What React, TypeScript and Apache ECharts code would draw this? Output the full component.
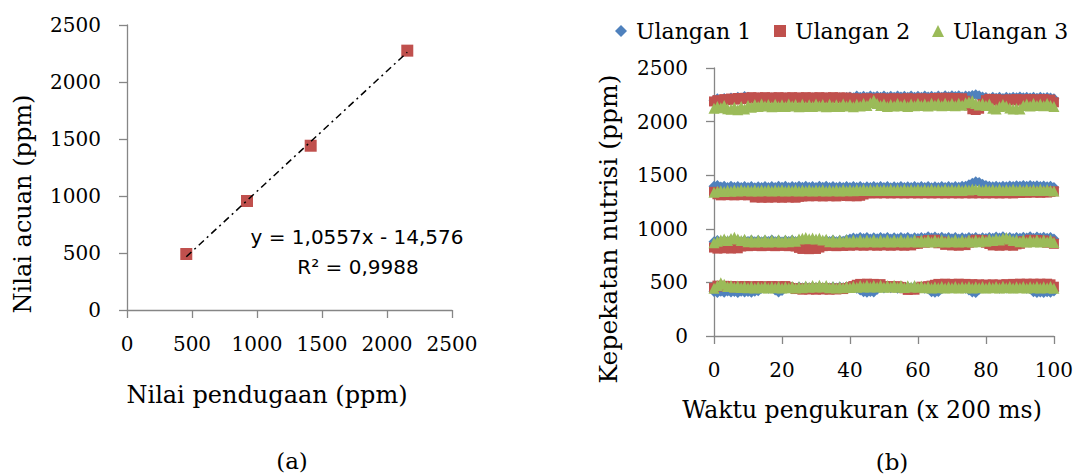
import React, { useEffect, useRef } from "react";
import * as echarts from "echarts";

// ---- Chart (a): calibration ----
const calibX = [456, 923, 1413, 2156];
const calibY = [491, 956, 1441, 2275];
const trendX = [456, 2156];
const trendY = [467, 2261];
const eqLine1 = "y = 1,0557x - 14,576";
const eqLine2 = "R² = 0,9988";

// ---- Chart (b): repeated measurements (index 0..100 = time x 200 ms) ----
const seriesNames = ["Ulangan 1", "Ulangan 2", "Ulangan 3"];

const u1Band450 = [
  415, 405, 418, 408, 420, 410, 416, 406, 418, 410,
  415, 408, 418, 422, 445, 458, 446, 456, 430, 410,
  425, 450, 449, 458, 446, 456, 448, 458, 447, 457,
  449, 458, 446, 456, 448, 458, 447, 457, 449, 458,
  450, 458, 446, 430, 412, 408, 416, 410, 435, 458,
  447, 457, 449, 458, 446, 456, 448, 458, 447, 457,
  449, 458, 446, 440, 412, 408, 415, 440, 448, 458,
  447, 457, 449, 458, 446, 430, 410, 406, 435, 458,
  447, 457, 449, 458, 446, 456, 448, 458, 447, 457,
  449, 458, 446, 440, 412, 405, 410, 406, 412, 408,
  420,
];
const u1Band880 = [
  880, 892, 878, 890, 882, 895, 880, 892, 878, 890,
  882, 894, 880, 892, 878, 890, 882, 895, 880, 892,
  878, 890, 882, 894, 880, 892, 878, 890, 882, 895,
  880, 892, 878, 890, 882, 894, 880, 892, 885, 898,
  905, 915, 908, 920, 910, 918, 906, 916, 908, 920,
  910, 918, 906, 916, 908, 920, 910, 918, 906, 916,
  910, 920, 912, 925, 915, 924, 912, 922, 910, 920,
  908, 918, 906, 916, 908, 920, 910, 918, 906, 916,
  910, 920, 912, 924, 915, 925, 912, 920, 910, 918,
  912, 922, 915, 925, 912, 924, 915, 922, 912, 920,
  905,
];
const u1Band1400 = [
  1398, 1404, 1390, 1398, 1386, 1396, 1388, 1395, 1385, 1394,
  1386, 1395, 1384, 1393, 1386, 1395, 1385, 1394, 1386, 1396,
  1388, 1397, 1386, 1395, 1388, 1398, 1387, 1396, 1388, 1395,
  1386, 1396, 1388, 1398, 1386, 1394, 1385, 1393, 1386, 1395,
  1385, 1394, 1386, 1395, 1384, 1393, 1386, 1395, 1385, 1394,
  1386, 1395, 1384, 1393, 1386, 1394, 1385, 1393, 1386, 1395,
  1385, 1394, 1386, 1395, 1384, 1393, 1386, 1395, 1385, 1394,
  1386, 1395, 1388, 1396, 1398, 1412, 1426, 1438, 1432, 1416,
  1405, 1398, 1392, 1396, 1390, 1398, 1392, 1400, 1395, 1402,
  1398, 1405, 1396, 1404, 1398, 1402, 1395, 1400, 1392, 1398,
  1385,
];
const u1Band2200 = [
  2200, 2212, 2198, 2215, 2205, 2220, 2210, 2228, 2218, 2234,
  2226, 2216, 2210, 2220, 2208, 2218, 2210, 2220, 2208, 2218,
  2210, 2220, 2208, 2218, 2210, 2220, 2208, 2218, 2210, 2220,
  2208, 2218, 2210, 2220, 2208, 2218, 2210, 2222, 2215, 2225,
  2230, 2222, 2238, 2228, 2236, 2226, 2238, 2230, 2236, 2226,
  2238, 2228, 2236, 2226, 2238, 2230, 2236, 2226, 2238, 2228,
  2236, 2226, 2238, 2230, 2236, 2226, 2238, 2228, 2240, 2232,
  2242, 2234, 2240, 2230, 2238, 2236, 2244, 2250, 2242, 2230,
  2224, 2214, 2226, 2218, 2228, 2216, 2226, 2220, 2228, 2222,
  2230, 2222, 2228, 2220, 2226, 2218, 2226, 2220, 2224, 2220,
  2212,
];

const u2Band450 = [
  448, 470, 462, 468, 458, 466, 455, 465, 458, 466,
  455, 465, 458, 466, 455, 465, 458, 466, 455, 465,
  458, 466, 455, 448, 438, 445, 432, 442, 434, 444,
  432, 442, 434, 444, 432, 442, 434, 444, 438, 448,
  455, 466, 478, 486, 476, 488, 478, 486, 476, 484,
  465, 458, 466, 455, 465, 458, 445, 430, 436, 432,
  448, 460, 455, 465, 470, 478, 486, 476, 488, 478,
  486, 476, 488, 478, 486, 476, 484, 474, 482, 474,
  480, 472, 482, 474, 480, 474, 484, 476, 486, 478,
  488, 478, 488, 480, 488, 478, 488, 480, 488, 482,
  460,
];
const u2Band880 = [
  825, 815, 828, 818, 826, 816, 828, 818, 835, 848,
  838, 850, 840, 852, 838, 850, 840, 852, 838, 850,
  840, 852, 838, 850, 835, 822, 812, 820, 810, 818,
  812, 825, 838, 850, 840, 852, 838, 850, 840, 852,
  842, 855, 845, 858, 842, 855, 845, 858, 842, 855,
  845, 858, 842, 855, 845, 858, 842, 855, 845, 858,
  860, 885, 870, 895, 875, 898, 865, 880, 850, 862,
  845, 858, 842, 855, 848, 870, 885, 898, 880, 895,
  870, 858, 845, 858, 842, 855, 845, 858, 842, 855,
  860, 885, 875, 898, 880, 896, 878, 892, 870, 880,
  860,
];
const u2Band1400 = [
  1345, 1322, 1312, 1320, 1314, 1322, 1312, 1320, 1314, 1322,
  1312, 1318, 1292, 1298, 1290, 1296, 1290, 1298, 1292, 1296,
  1290, 1298, 1292, 1296, 1290, 1298, 1302, 1308, 1303, 1310,
  1304, 1308, 1302, 1310, 1304, 1308, 1302, 1310, 1318, 1306,
  1304, 1310, 1303, 1308, 1320, 1330, 1332, 1336, 1330, 1336,
  1331, 1336, 1330, 1335, 1331, 1336, 1330, 1336, 1331, 1335,
  1330, 1336, 1331, 1336, 1330, 1335, 1331, 1336, 1330, 1336,
  1331, 1335, 1330, 1336, 1331, 1336, 1330, 1335, 1331, 1336,
  1330, 1336, 1331, 1335, 1330, 1336, 1331, 1336, 1330, 1335,
  1334, 1340, 1336, 1342, 1338, 1342, 1336, 1342, 1338, 1344,
  1350,
];
const u2Band2200 = [
  2188, 2200, 2195, 2210, 2200, 2215, 2205, 2220, 2210, 2222,
  2215, 2228, 2218, 2226, 2215, 2228, 2218, 2226, 2215, 2228,
  2218, 2226, 2215, 2228, 2218, 2226, 2215, 2228, 2218, 2226,
  2215, 2228, 2218, 2226, 2215, 2228, 2218, 2226, 2215, 2225,
  2210, 2218, 2205, 2215, 2208, 2218, 2205, 2215, 2208, 2218,
  2205, 2215, 2208, 2218, 2205, 2215, 2208, 2218, 2205, 2215,
  2208, 2218, 2205, 2215, 2208, 2220, 2210, 2222, 2212, 2222,
  2210, 2220, 2208, 2218, 2195, 2150, 2115, 2108, 2120, 2165,
  2200, 2212, 2198, 2210, 2180, 2205, 2195, 2208, 2198, 2210,
  2195, 2208, 2198, 2210, 2195, 2208, 2198, 2210, 2195, 2205,
  2180,
];

const u3Band450 = [
  446, 472, 496, 482, 462, 470, 455, 466, 452, 464,
  450, 462, 448, 460, 450, 462, 448, 460, 450, 462,
  448, 460, 450, 462, 448, 460, 450, 466, 455, 472,
  458, 474, 456, 470, 450, 462, 448, 460, 450, 462,
  452, 465, 455, 470, 458, 474, 456, 472, 458, 474,
  455, 470, 456, 474, 455, 470, 452, 468, 456, 472,
  454, 466, 450, 462, 448, 460, 450, 462, 448, 460,
  450, 462, 448, 460, 450, 462, 448, 460, 450, 462,
  448, 460, 450, 462, 448, 465, 450, 462, 448, 460,
  450, 462, 448, 460, 450, 462, 448, 460, 450, 462,
  445,
];
const u3Band880 = [
  870, 885, 895, 905, 890, 910, 922, 905, 890, 902,
  880, 898, 878, 896, 880, 898, 878, 896, 880, 898,
  878, 896, 880, 898, 885, 905, 912, 918, 908, 915,
  905, 912, 895, 902, 880, 898, 878, 896, 880, 898,
  878, 896, 880, 898, 878, 896, 880, 898, 878, 896,
  880, 898, 878, 896, 880, 898, 878, 896, 880, 898,
  878, 896, 880, 898, 878, 896, 880, 898, 878, 896,
  880, 898, 878, 896, 880, 898, 878, 896, 880, 900,
  885, 905, 890, 908, 895, 912, 918, 905, 890, 898,
  880, 898, 878, 896, 880, 898, 878, 896, 880, 898,
  872,
];
const u3Band1400 = [
  1342, 1350, 1356, 1348, 1360, 1350, 1362, 1352, 1364, 1354,
  1362, 1352, 1364, 1352, 1362, 1354, 1364, 1352, 1362, 1354,
  1364, 1352, 1362, 1354, 1364, 1352, 1362, 1354, 1364, 1352,
  1362, 1354, 1364, 1352, 1362, 1354, 1364, 1352, 1366, 1356,
  1364, 1356, 1366, 1358, 1368, 1358, 1366, 1358, 1368, 1358,
  1366, 1358, 1368, 1358, 1366, 1358, 1368, 1358, 1366, 1358,
  1368, 1358, 1366, 1358, 1368, 1358, 1366, 1358, 1368, 1358,
  1366, 1358, 1368, 1358, 1366, 1362, 1372, 1368, 1366, 1358,
  1368, 1358, 1366, 1358, 1368, 1358, 1366, 1358, 1368, 1358,
  1366, 1358, 1368, 1358, 1366, 1358, 1368, 1358, 1366, 1358,
  1352,
];
const u3Band2200 = [
  2125, 2140, 2130, 2150, 2120, 2115, 2135, 2110, 2140, 2118,
  2150, 2135, 2160, 2140, 2165, 2145, 2160, 2138, 2162, 2142,
  2158, 2140, 2165, 2145, 2160, 2138, 2162, 2142, 2158, 2140,
  2165, 2145, 2160, 2138, 2162, 2142, 2158, 2140, 2165, 2145,
  2160, 2138, 2162, 2145, 2168, 2150, 2175, 2200, 2170, 2150,
  2165, 2142, 2160, 2145, 2168, 2148, 2162, 2140, 2165, 2148,
  2170, 2150, 2165, 2145, 2172, 2152, 2168, 2148, 2172, 2150,
  2168, 2148, 2172, 2152, 2175, 2185, 2195, 2170, 2155, 2168,
  2150, 2165, 2125, 2118, 2140, 2160, 2145, 2128, 2118, 2122,
  2118, 2150, 2165, 2145, 2168, 2150, 2165, 2148, 2170, 2150,
  2140,
];

const u1Bands = [u1Band450, u1Band880, u1Band1400, u1Band2200];
const u2Bands = [u2Band450, u2Band880, u2Band1400, u2Band2200];
const u3Bands = [u3Band450, u3Band880, u3Band1400, u3Band2200];

const SERIF = '"DejaVu Serif", serif';
const SANS = '"DejaVu Sans", sans-serif';
const AXIS_GRAY = "#868686";
const BLUE = "#4F81BD";
const RED = "#C0504D";
const GREEN = "#9BBB59";

function toPoints(bands: number[][]) {
  const pts: number[][] = [];
  bands.forEach((band) => band.forEach((v, i) => pts.push([i, v])));
  return pts;
}

function axisCommon(min: number, max: number, interval: number, margin: number) {
  return {
    type: "value",
    min,
    max,
    interval,
    axisLine: { show: true, lineStyle: { color: AXIS_GRAY, width: 1.3 } },
    axisTick: { show: true, inside: false, length: 8, lineStyle: { color: AXIS_GRAY, width: 1.3 } },
    splitLine: { show: false },
    axisLabel: {
      color: "#000",
      fontFamily: SERIF,
      fontSize: 20,
      margin,
      formatter: (v: number) => String(v),
    },
  };
}

function textEl(text: string, x: number, y: number, fontSize: number, family: string, rotation = 0) {
  return {
    type: "text",
    x,
    y,
    rotation,
    silent: true,
    style: {
      text,
      fill: "#000",
      fontSize,
      fontFamily: family,
      align: "center",
      verticalAlign: "middle",
    },
  };
}

export default function App() {
  const ref = useRef<HTMLDivElement>(null);

  useEffect(() => {
    document.body.style.margin = "0";
    if (!ref.current) return;
    const chart = echarts.init(ref.current, undefined, { renderer: "svg" });

    const legendBase = (name: string, left: number) => ({
      data: [name],
      left,
      top: 20,
      padding: 0,
      itemWidth: 12,
      itemHeight: 12,
      selectedMode: false,
      itemStyle: { opacity: 1 },
      textStyle: { fontFamily: SERIF, fontSize: 22, color: "#000", padding: [0, 0, 0, 4] },
    });

    const option: any = {
      animation: false,
      backgroundColor: "#fff",
      legend: [
        legendBase(seriesNames[0], 615),
        legendBase(seriesNames[1], 774),
        legendBase(seriesNames[2], 932),
      ],
      grid: [
        { left: 127, top: 25, width: 325, height: 285, containLabel: false },
        { left: 714, top: 68, width: 341, height: 268, containLabel: false },
      ],
      xAxis: [
        { ...axisCommon(0, 2500, 500, 24), gridIndex: 0 },
        { ...axisCommon(0, 100, 20, 24), gridIndex: 1 },
      ],
      yAxis: [
        { ...axisCommon(0, 2500, 500, 26), gridIndex: 0 },
        { ...axisCommon(0, 2500, 500, 26), gridIndex: 1 },
      ],
      series: [
        {
          name: "Kalibrasi",
          type: "scatter",
          xAxisIndex: 0,
          yAxisIndex: 0,
          symbol: "rect",
          symbolSize: 12,
          itemStyle: { color: RED, opacity: 1 },
          data: calibX.map((x, i) => [x, calibY[i]]),
          z: 2,
        },
        {
          name: "Linear",
          type: "line",
          xAxisIndex: 0,
          yAxisIndex: 0,
          showSymbol: false,
          symbol: "none",
          lineStyle: { color: "#000", width: 1.5, type: [7, 4, 2, 4] },
          data: trendX.map((x, i) => [x, trendY[i]]),
          z: 3,
        },
        {
          name: seriesNames[0],
          type: "scatter",
          xAxisIndex: 1,
          yAxisIndex: 1,
          symbol: "diamond",
          symbolSize: 11,
          itemStyle: { color: BLUE, opacity: 1 },
          data: toPoints(u1Bands),
        },
        {
          name: seriesNames[1],
          type: "scatter",
          xAxisIndex: 1,
          yAxisIndex: 1,
          symbol: "rect",
          symbolSize: 10,
          itemStyle: { color: RED, opacity: 1 },
          data: toPoints(u2Bands),
        },
        {
          name: seriesNames[2],
          type: "scatter",
          xAxisIndex: 1,
          yAxisIndex: 1,
          symbol: "triangle",
          symbolSize: 11,
          itemStyle: { color: GREEN, opacity: 1 },
          data: toPoints(u3Bands),
        },
      ],
      graphic: [
        textEl(eqLine1, 357, 237, 20, SANS),
        textEl(eqLine2, 358, 267, 20, SANS),
        textEl("Nilai pendugaan (ppm)", 267, 395, 24, SERIF),
        textEl("Nilai acuan (ppm)", 23, 204, 24, SERIF, Math.PI / 2),
        textEl("(a)", 292, 461, 23, SERIF),
        textEl("Waktu pengukuran (x 200 ms)", 862, 410, 23.5, SERIF),
        textEl("Kepekatan nutrisi (ppm)", 608, 229, 25, SERIF, Math.PI / 2),
        textEl("(b)", 892, 462, 23, SERIF),
      ],
    };

    chart.setOption(option);
    return () => chart.dispose();
  }, []);

  return <div ref={ref} style={{ width: 1076, height: 474 }} />;
}
